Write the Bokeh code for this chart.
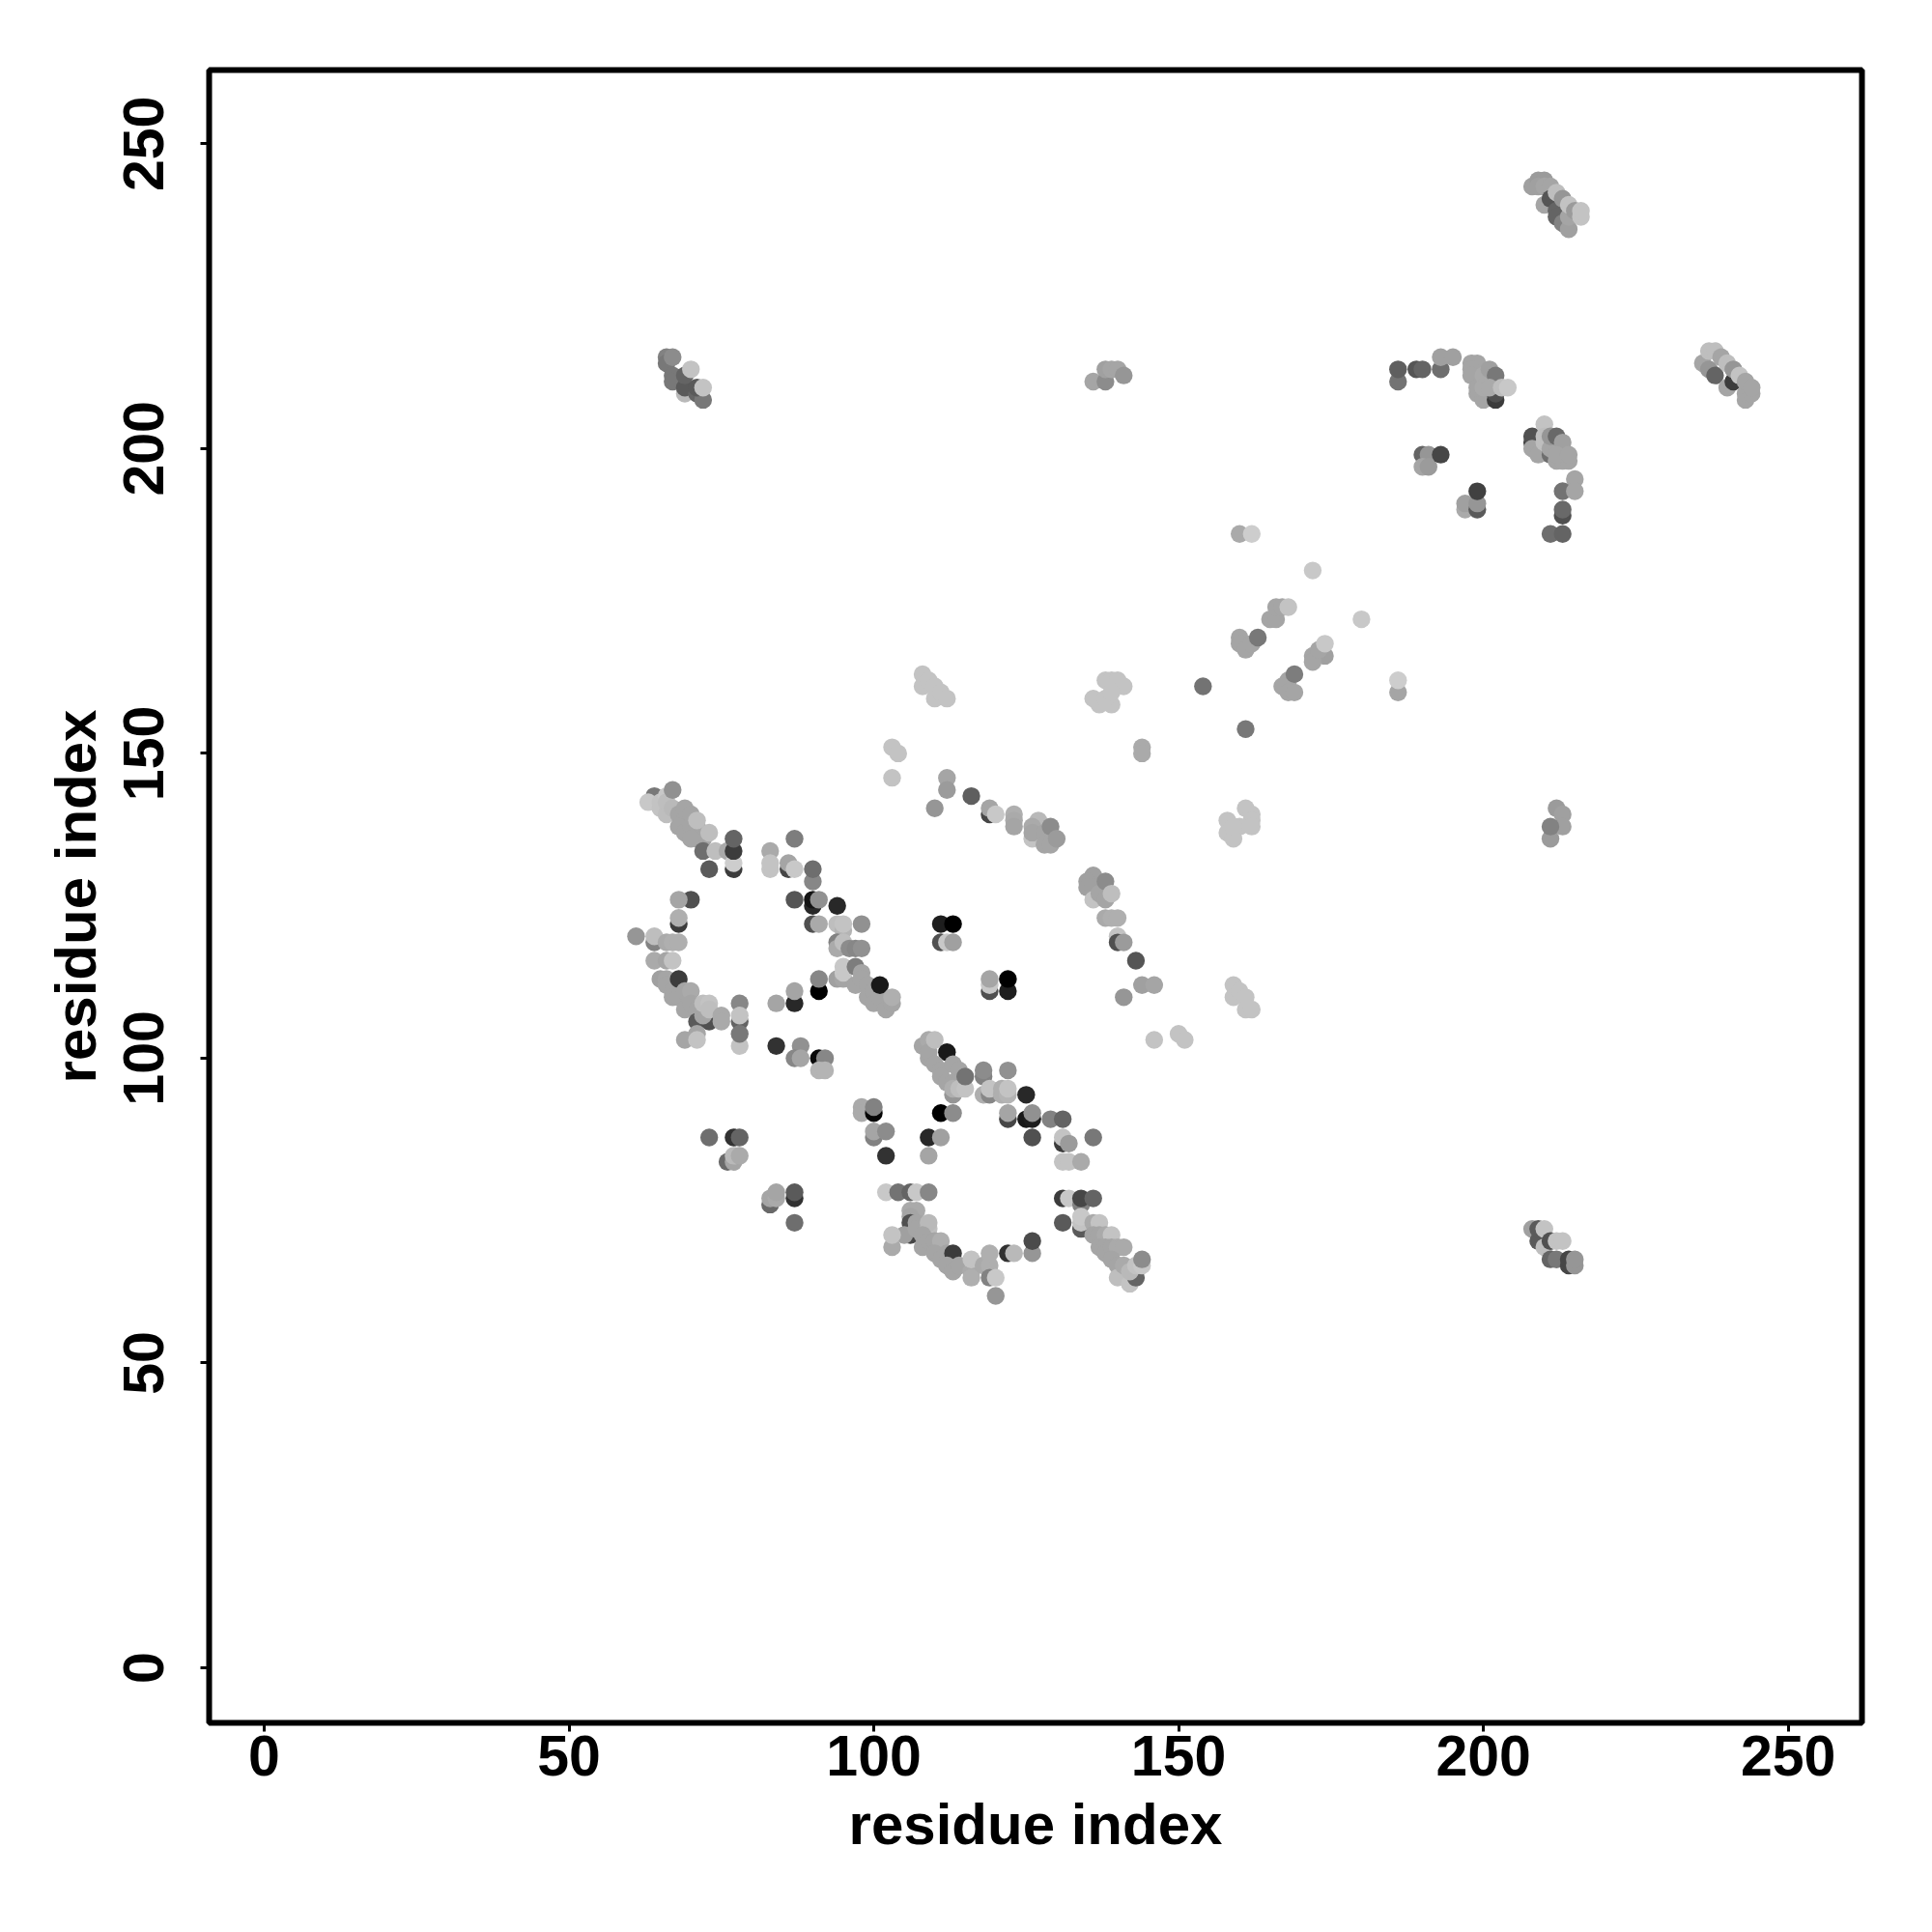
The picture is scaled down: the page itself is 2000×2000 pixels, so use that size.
from bokeh.plotting import figure
from bokeh.models import ColumnDataSource, Range1d, FixedTicker
from bokeh.embed import file_html
from bokeh.resources import INLINE

# Each region: (residue i, residue j, grey level), in drawing order
chain_a = [(64,143,120),(63,142,200),(65,141,195),(65,142,195),(66,140,190),(66,143,200),(66,142,190),(67,141,185),
 (67,144,145),(68,140,165),(69,141,165),(69,139,165),(70,140,165),(68,138,165),(69,137,165),(70,138,165),(71,136,165),
 (71,138,165),(72,136,165),(70,136,165),(71,139,190),(72,134,110),(73,137,190),(73,131,90),(74,134,190),(76,134,170),
 (77,131,60),(77,132,205),(77,134,60),(77,136,100)]
chain_b = [(83,134,170),(83,131,195),(83,132,195),(87,136,125),(86,131,70),(86,132,165),(87,131,200),(90,129,135),(90,131,110),
 (87,126,85),(90,125,40),(90,126,20),(91,126,145),(94,125,40),(90,122,80),(91,122,170),(94,122,190),(95,121,180),(95,122,195),
 (98,122,145),(94,119,130),(94,118,170),(95,119,190),(96,118,140),(97,118,135),(98,118,145),(94,113,160),(95,113,165),
 (95,114,200),(95,115,200),(97,115,125),(97,112,165),(98,114,165),(98,113,165),(99,112,165),(99,110,165),(100,111,165),(100,109,165),
 (101,110,165),(101,112,25),(102,108,165),(103,109,165),(103,110,175),(91,111,0),(91,113,135),(87,109,40),(87,111,165),(84,109,165)]
ring_left = [(70,126,80),(68,126,165),(68,122,60),(68,123,175),(61,120,150),(64,119,130),(64,120,190),(66,119,170),(67,119,175),(68,119,175),
 (64,116,170),(66,116,165),(67,116,195),(65,113,160),(66,113,165),(66,112,165),(67,111,165),(67,110,165),(68,113,60),(68,110,165),
 (69,111,165),(70,111,170),(69,108,165),(70,109,165),(71,108,165),(71,106,90),(73,106,80),(72,107,165),(72,109,190),(73,109,195),(73,108,190),
 (75,107,170),(75,106,170),(78,106,100),(78,109,135),(78,107,195),(78,102,195),(78,104,120),(71,104,165),(69,103,165),(71,103,195)]
ring_mid = [(84,102,50),(88,102,145),(87,100,135),(88,100,165),(91,100,10),(92,100,135),(91,98,180),(92,98,180)]
chain_c = [(108,102,165),(109,103,170),(109,100,165),(109,101,165),(110,103,190),(112,101,25),(110,99,165),(111,98,165),(111,97,165),(112,96,165),
 (113,99,165),(114,98,165),(113,94,150),(113,96,165),(114,96,165),(113,95,175),(114,95,190),(115,95,195),(115,97,115)]
chain_d = [(118,97,130),(118,98,140),(118,94,175),(119,94,135),(119,95,195),(121,94,175),(121,95,175),(122,98,145),(122,94,180),(122,95,195),
 (125,94,40),(122,90,70),(122,91,165),(125,90,25),(126,90,30),(126,91,145),(126,87,80),(129,90,130),(131,90,100),(131,86,60),(131,87,195),
 (132,86,155),(136,87,120),(131,83,195),(132,83,195),(134,83,170)]
middle = [(98,92,170),(98,91,170),(100,91,5),(100,92,130),(100,87,130),(100,88,165),(102,88,140),(102,84,50),(111,91,0),(113,91,140),
 (109,87,40),(111,87,160),(109,84,165)]
ring_bottom = [(102,78,200),(104,78,115),(106,78,100),(107,78,200),(109,78,135),(106,75,170),(107,75,170),(106,74,165),(106,73,80),(106,71,70),
 (105,71,160),(103,69,170),(103,71,195),(107,73,165),(107,72,165),(109,72,190),(109,73,185),(108,71,165),(108,69,165),(109,70,165),(110,70,165),(111,70,175),
 (110,68,165),(111,67,165),(112,68,165),(113,68,60),(112,66,165),(113,65,165),(114,66,165),(116,65,170),(116,64,175),(116,67,195),(118,66,170),
 (119,66,175),(119,68,175),(119,64,130),(120,64,200),(120,61,150),(122,68,50),(123,68,185),(126,68,150),(126,70,75)]
ring_right = [(131,77,60),(132,77,200),(134,76,130),(134,77,70),(136,77,100),(131,73,90),(134,72,90),(134,73,195),(134,74,200),(136,73,170),(137,73,195),
 (136,71,165),(137,71,165),(138,71,170),(139,71,195),(137,69,165),(138,69,165),(138,68,165),(139,69,165),(140,69,170),(141,69,170),(139,67,165),(140,66,165),(140,64,190),
 (142,63,195),(141,66,170),(143,64,100),(142,65,185),(143,66,195),(144,66,200),(144,67,140)]
bottom_left = [(73,87,110),(77,87,50),(78,87,100),(76,83,105),(77,83,165),(77,84,185),(78,84,170),(83,76,105),(83,77,165),(84,77,170),(84,78,165),
 (87,77,50),(87,78,90),(87,73,110)]
centre = [(108,163,195),(108,161,195),(109,162,195),(110,161,195),(110,159,195),(111,160,195),(112,159,195),
 (138,162,195),(139,162,195),(140,162,195),(141,161,195),(136,159,195),(137,158,195),(139,158,195),(138,159,195),(139,160,195),
 (154,161,115),(161,154,120),(144,151,170),(144,150,170),(103,151,195),(104,150,195),(103,146,195),
 (112,146,165),(112,144,155),(110,141,150),(116,143,95),(119,140,70),(119,141,165),(120,140,200),(123,140,175),(123,139,170),(123,138,165),
 (126,136,195),(127,139,185),(126,138,170),(126,137,165),(128,137,165),(129,138,140),(128,135,165),(129,135,165),(130,136,155),
 (136,130,160),(135,129,160),(135,128,160),(136,128,160),(136,126,195),(137,127,165),(138,126,165),(138,129,140),(139,127,190),
 (138,123,170),(139,123,175),(140,123,175),(140,120,195),(140,119,80),(141,119,155),(143,116,85),(144,112,160),(146,112,165),(141,110,150)]
small_blocks = [(111,122,30),(113,122,0),(111,119,80),(112,119,200),(113,119,160),(119,111,80),(119,112,200),(119,113,165),(122,111,30),(122,113,0),
 (159,112,195),(159,110,195),(160,111,195),(161,110,195),(161,108,195),(162,108,195),(146,103,195),(150,104,195),(151,103,195)]
diag_upper = [(160,186,170),(162,186,205),(172,180,200),(180,172,200),(165,172,165),(166,172,165),(166,174,165),(167,174,165),(168,174,195),
 (160,169,165),(160,168,165),(161,167,165),(162,168,165),(163,169,120),(174,166,160),(172,166,165),(172,165,165),(173,167,165),(174,168,200),
 (168,162,165),(167,161,165),(168,160,165),(169,160,165),(169,163,125),(186,160,165),(186,162,205),
 (161,141,195),(162,140,195),(162,139,195),(162,138,195),(158,139,195),(158,137,195),(159,136,195),(160,138,195),(159,138,195),
 (212,141,155),(213,140,160),(213,138,160),(211,136,155),(211,138,130)]
top_cluster = [(208,243,160),(209,244,155),(210,244,155),(209,243,160),(210,243,165),(211,243,165),(210,240,165),(211,241,85),(212,239,100),(212,238,100),(213,237,130),
 (214,236,160),(212,242,190),(213,241,150),(214,238,165),(214,240,195),(215,239,155),(216,238,195),(216,239,195)]
arc_upper = [(186,211,115),(186,213,95),(189,213,85),(190,213,100),(193,213,110),(193,215,160),(195,215,160),
 (198,214,165),(199,214,165),(198,213,165),(198,212,165),(199,209,165),(200,208,165),(202,208,60),(202,209,80),(199,210,165),(200,212,170),(201,213,160),
 (202,212,120),(200,210,170),(201,210,170),(203,210,190),(204,210,200)]
lower_cluster = [(208,201,70),(208,202,80),(208,200,165),(209,199,165),(210,204,195),(210,202,190),(210,201,190),(211,199,110),(211,200,165),(211,202,150),(212,202,105),
 (213,201,160),(212,198,165),(213,198,165),(214,198,165),(212,199,165),(214,199,165),(215,195,165),(213,193,115),(215,193,165),(213,189,80),(213,190,105),(211,186,110),(213,186,100),
 (190,199,100),(191,199,150),(190,197,165),(191,197,155),(193,199,70),(197,190,170),(197,191,160),(199,190,90),(199,191,150),(199,193,65)]
far_right = [(236,214,165),(237,213,150),(238,212,100),(237,216,190),(238,216,190),(239,215,165),(240,210,165),(241,211,60),(240,214,190),(241,213,150),(242,212,195),
 (243,208,165),(243,209,165),(244,209,165),(243,211,165),(244,210,165)]
far_left = [(66,215,130),(66,214,120),(67,215,140),(67,212,120),(67,211,120),(69,209,185),(69,210,90),(69,212,100),(70,213,195),(71,209,100),(72,208,120),(71,210,90),(72,210,195)]
mid_upper = [(136,211,165),(138,211,140),(138,213,160),(139,213,165),(140,213,165),(141,212,150)]
low_right = [(208,72,160),(209,70,90),(209,72,90),(210,69,190),(210,72,195),(211,67,100),(211,70,80),(212,67,120),(212,70,195),(213,70,195),(214,66,70),(214,67,70),(215,66,150),(215,67,150)]

regions = [chain_a, chain_b, ring_left, ring_mid, chain_c, chain_d, middle, ring_bottom, ring_right, bottom_left, centre,
           small_blocks, diag_upper, top_cluster, arc_upper, lower_cluster, far_right, far_left, mid_upper, low_right]
rows = [r for region in regions for r in region]
res_i = [r[0] for r in rows]
res_j = [r[1] for r in rows]
colors = ["#%02x%02x%02x" % (r[2], r[2], r[2]) for r in rows]
tick_values = [0, 50, 100, 150, 200, 250]

p = figure(width=1992, height=1992, output_backend="svg", toolbar_location=None,
           x_range=Range1d(-9.03, 262.1), y_range=Range1d(-9.03, 262.1),
           min_border_left=216, min_border_right=65, min_border_top=72, min_border_bottom=209,
           background_fill_color="white", border_fill_color="white")
p.grid.visible = False
p.outline_line_color = "black"
p.outline_line_width = 6

p.scatter(x="x", y="y", color="color", size=18.4, line_color=None, marker="circle",
          source=ColumnDataSource(dict(x=res_i, y=res_j, color=colors)))

for ax in (p.xaxis[0], p.yaxis[0]):
    ax.ticker = FixedTicker(ticks=tick_values)
    ax.axis_label = "residue index"
    ax.axis_line_color = None
    ax.major_tick_line_color = "black"
    ax.major_tick_line_width = 3
    ax.major_tick_in = 0
    ax.major_tick_out = 9
    ax.minor_tick_line_color = None
    ax.major_label_text_font = "Liberation Sans"
    ax.major_label_text_font_style = "bold"
    ax.major_label_text_font_size = "59px"
    ax.major_label_text_color = "black"
    ax.axis_label_text_font = "Liberation Sans"
    ax.axis_label_text_font_style = "bold"
    ax.axis_label_text_font_size = "60px"
    ax.axis_label_text_color = "black"
    ax.major_label_standoff = 4
    ax.axis_label_standoff = 14
p.yaxis[0].major_label_orientation = "vertical"
p.yaxis[0].major_label_standoff = 38
p.yaxis[0].axis_label_standoff = 14

open("out.html", "w").write(file_html(p, INLINE))
